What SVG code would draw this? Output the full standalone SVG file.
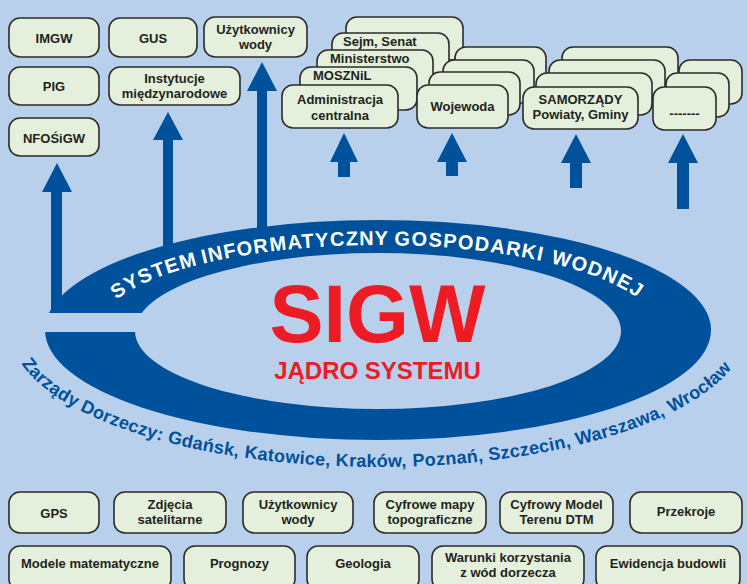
<svg xmlns="http://www.w3.org/2000/svg" width="747" height="584" viewBox="0 0 747 584">
<defs>
<style>
.bx{fill:#E4F0DC;stroke:#2B2B2B;stroke-width:1.6}
.t{font-family:"Liberation Sans",Arial,sans-serif;font-weight:bold;font-size:13px;fill:#231F20;text-anchor:middle}
.ts{font-family:"Liberation Sans",Arial,sans-serif;font-weight:bold;font-size:13px;fill:#231F20}
.bl{fill:#00519B}
.at{font-family:"Liberation Sans",Arial,sans-serif;font-weight:bold;font-size:20px;letter-spacing:1.2px;fill:#FFFFFF}
.ab{font-family:"Liberation Sans",Arial,sans-serif;font-weight:bold;font-size:18px;letter-spacing:0.3px;fill:#00519B}
</style>
<path id="arcTop" d="M 98 330 A 280 85 0 0 1 658 330"/>
<path id="arcBot" d="M 10 330 A 368 137 0 0 0 746 330"/>
</defs>
<rect width="747" height="584" fill="#B9D0EC"/>

<g id="connectors" class="bl">
<polygon points="51,313 51,192 42,192 57,163 72,192 62,192 62,313"/>
<polygon points="163,260 163,140 153,140 168,112 183,140 173,140 173,260"/>
<polygon points="257,250 257,91 247,91 262,62 277,91 267,91 267,250"/>
<polygon points="338,177 338,162 330,162 344,133 358,162 350,162 350,177"/>
<polygon points="446,176 446,162 437,162 452,133 467,162 458,162 458,176"/>
<polygon points="570,188 570,163 561,163 576,134 591,163 582,163 582,188"/>
<polygon points="677,209 677,163 668,163 683,134 698,163 689,163 689,209"/>
</g>

<g id="core">
<path class="bl" fill-rule="evenodd" d="M 45 330 A 333 110 0 1 0 711 330 A 333 110 0 1 0 45 330 Z M 135 331 A 243 78 0 1 0 621 331 A 243 78 0 1 0 135 331 Z"/>
<rect x="30" y="313" width="125" height="19" fill="#B9D0EC"/>
<text class="at"><textPath href="#arcTop" startOffset="37">SYSTEM</textPath></text>
<text class="at"><textPath href="#arcTop" startOffset="131">INFORMATYCZNY</textPath></text>
<text class="at"><textPath href="#arcTop" startOffset="324">GOSPODARKI</textPath></text>
<text class="at"><textPath href="#arcTop" startOffset="481">WODNEJ</textPath></text>
<text x="377.5" y="342" font-family="Liberation Sans,Arial,sans-serif" font-weight="bold" font-size="81" fill="#ED1C24" text-anchor="middle">SIGW</text>
<text x="377.5" y="379" font-family="Liberation Sans,Arial,sans-serif" font-weight="bold" font-size="24" fill="#ED1C24" text-anchor="middle">JĄDRO SYSTEMU</text>
<text class="ab"><textPath href="#arcBot" startOffset="36.1">Zarządy</textPath></text>
<text class="ab"><textPath href="#arcBot" startOffset="111.5">Dorzeczy:</textPath></text>
<text class="ab"><textPath href="#arcBot" startOffset="204.5">Gdańsk,</textPath></text>
<text class="ab"><textPath href="#arcBot" startOffset="283.0">Katowice,</textPath></text>
<text class="ab"><textPath href="#arcBot" startOffset="375.0">Kraków,</textPath></text>
<text class="ab"><textPath href="#arcBot" startOffset="452.4">Poznań,</textPath></text>
<text class="ab"><textPath href="#arcBot" startOffset="528.8">Szczecin,</textPath></text>
<text class="ab"><textPath href="#arcBot" startOffset="617.9">Warszawa,</textPath></text>
<text class="ab"><textPath href="#arcBot" startOffset="717.9">Wrocław</textPath></text>
</g>

<g id="imgw"><rect class="bx" x="9" y="18" width="90" height="39" rx="11"/><text class="t" x="54" y="43">IMGW</text></g>
<g id="gus"><rect class="bx" x="109" y="18" width="88" height="39" rx="11"/><text class="t" x="153" y="43">GUS</text></g>
<g id="uzytkownicy-top"><rect class="bx" x="204" y="17" width="103" height="40" rx="11"/><text class="t" x="255.5" y="34">Użytkownicy</text><text class="t" x="255.5" y="49">wody</text></g>
<g id="pig"><rect class="bx" x="9" y="67" width="90" height="38" rx="11"/><text class="t" x="54" y="91">PIG</text></g>
<g id="instytucje"><rect class="bx" x="109" y="67" width="131" height="38" rx="11"/><text class="t" x="174.5" y="83">Instytucje</text><text class="t" x="174.5" y="98">międzynarodowe</text></g>
<g id="nfosigw"><rect class="bx" x="9" y="118" width="90" height="38" rx="11"/><text class="t" x="54" y="143">NFOŚiGW</text></g>

<g id="administracja">
<rect class="bx" x="346" y="17" width="117" height="43" rx="11"/>
<rect class="bx" x="332" y="33" width="117" height="43" rx="11"/>
<text class="ts" x="343" y="46">Sejm, Senat</text>
<rect class="bx" x="317" y="50" width="116" height="43" rx="11"/>
<text class="ts" x="330" y="63">Ministerstwo</text>
<rect class="bx" x="300" y="67" width="117" height="43" rx="11"/>
<text class="ts" x="313" y="80">MOSZNiL</text>
<rect class="bx" x="282" y="85" width="116" height="43" rx="11"/>
<text class="t" x="340" y="104">Administracja</text><text class="t" x="340" y="120">centralna</text>
</g>

<g id="wojewoda">
<rect class="bx" x="455" y="47" width="91" height="43" rx="11"/>
<rect class="bx" x="443" y="60" width="91" height="43" rx="11"/>
<rect class="bx" x="429" y="72" width="91" height="43" rx="11"/>
<rect class="bx" x="417" y="85" width="91" height="43" rx="11"/>
<text class="t" x="462.5" y="111">Wojewoda</text>
</g>

<g id="samorzady">
<rect class="bx" x="562" y="47" width="116" height="42" rx="11"/>
<rect class="bx" x="549" y="60" width="116" height="42" rx="11"/>
<rect class="bx" x="536" y="73" width="116" height="42" rx="11"/>
<rect class="bx" x="523" y="87" width="115" height="42" rx="11"/>
<text class="t" x="580.5" y="104">SAMORZĄDY</text><text class="t" x="580.5" y="119">Powiaty, Gminy</text>
</g>

<g id="inne">
<rect class="bx" x="679" y="60" width="63" height="44" rx="11"/>
<rect class="bx" x="666" y="73" width="63" height="44" rx="11"/>
<rect class="bx" x="653" y="87" width="63" height="43" rx="11"/>
<text class="t" x="684.5" y="118">-------</text>
</g>

<g id="gps"><rect class="bx" x="9" y="492" width="90" height="41" rx="11"/><text class="t" x="54" y="518">GPS</text></g>
<g id="zdjecia"><rect class="bx" x="114" y="492" width="112" height="41" rx="11"/><text class="t" x="170" y="509">Zdjęcia</text><text class="t" x="170" y="524">satelitarne</text></g>
<g id="uzytkownicy-bottom"><rect class="bx" x="243" y="492" width="110" height="41" rx="11"/><text class="t" x="298" y="509">Użytkownicy</text><text class="t" x="298" y="524">wody</text></g>
<g id="mapy"><rect class="bx" x="374" y="492" width="112" height="41" rx="11"/><text class="t" x="430" y="509">Cyfrowe mapy</text><text class="t" x="430" y="524">topograficzne</text></g>
<g id="dtm"><rect class="bx" x="500" y="492" width="113" height="41" rx="11"/><text class="t" x="556.5" y="509">Cyfrowy Model</text><text class="t" x="556.5" y="524">Terenu DTM</text></g>
<g id="przekroje"><rect class="bx" x="630" y="492" width="112" height="41" rx="11"/><text class="t" x="686" y="516">Przekroje</text></g>

<g id="modele"><rect class="bx" x="9" y="546" width="162" height="44" rx="11"/><text class="t" x="90" y="568">Modele matematyczne</text></g>
<g id="prognozy"><rect class="bx" x="184" y="546" width="111" height="44" rx="11"/><text class="t" x="239.5" y="568">Prognozy</text></g>
<g id="geologia"><rect class="bx" x="307" y="546" width="112" height="44" rx="11"/><text class="t" x="363" y="568">Geologia</text></g>
<g id="warunki"><rect class="bx" x="432" y="546" width="152" height="44" rx="11"/><text class="t" x="508" y="562">Warunki korzystania</text><text class="t" x="508" y="577">z wód dorzecza</text></g>
<g id="ewidencja"><rect class="bx" x="596" y="546" width="144" height="44" rx="11"/><text class="t" x="668" y="568">Ewidencja budowli</text></g>
</svg>
